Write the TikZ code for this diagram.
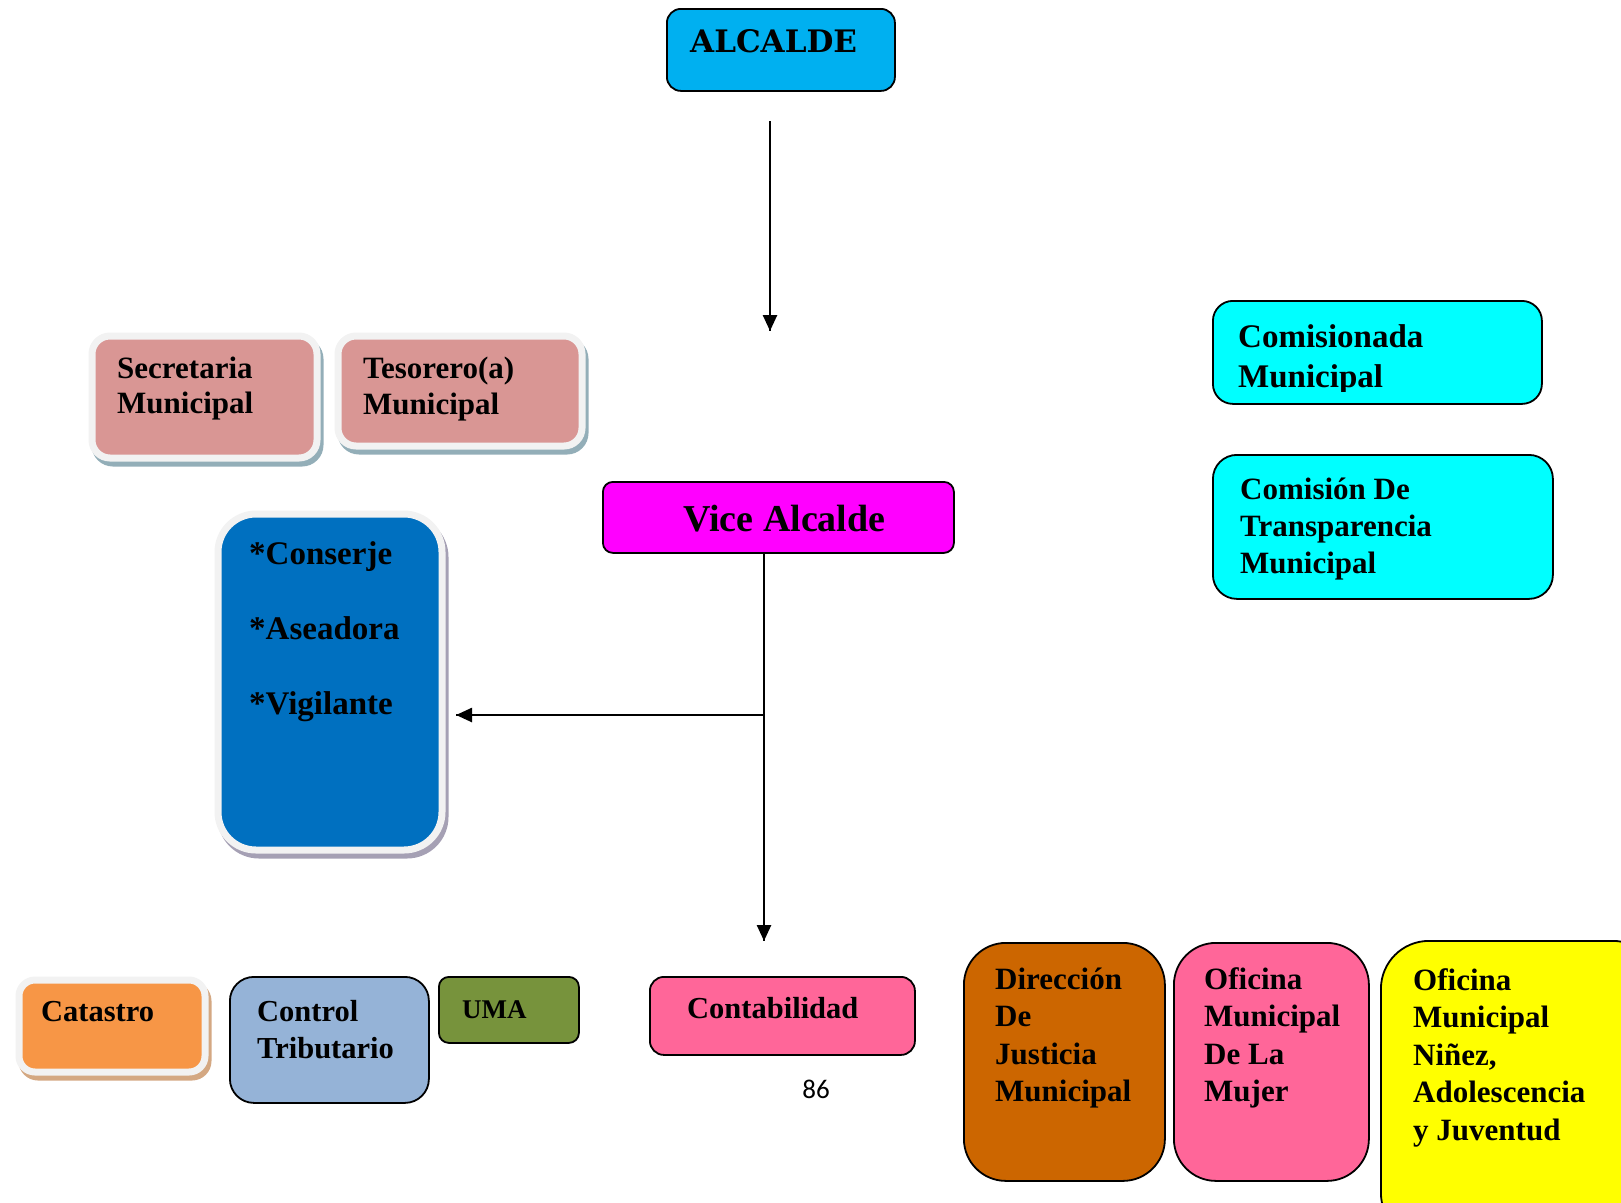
\documentclass[tikz,border=0pt]{standalone}
\usepackage{fontspec}
\setmainfont{Liberation Serif}
\newfontfamily\stencilfont{DejaVu Serif}
\newfontfamily\pagefont{Carlito}
\usetikzlibrary{arrows.meta}
\usetikzlibrary{decorations.markings}
\usetikzlibrary{shadows}
\tikzset{arrowto/.style = {decoration={markings,
                                      mark=at position 1 with {\arrow{Triangle[length=16pt, width=14pt]}}},
                           postaction={decorate}}}
\tikzset{plainbox/.style = {draw=black, line width=1.8pt, rounded corners=#1,
                            inner sep=0pt, anchor=north west},
         plainbox/.default = 12pt}
\tikzset{framedbox/.style = {draw=framegray, line width=7pt, rounded corners=#1,
                             inner sep=0pt, anchor=north west},
         framedbox/.default = 18pt}
\tikzset{shade/.style = {general shadow={fill=#1, draw=#1, line width=7pt,
                                         shadow xshift=3pt, shadow yshift=-5pt}}}
\tikzset{boxtext/.style = {anchor=base west, inner sep=0pt, text width=#1,
                           execute at begin node={\spaceskip=0pt\xspaceskip=0pt}},
         boxtext/.default = 240pt}
\definecolor{alcblue}{HTML}{00B0F0}
\definecolor{vicemagenta}{HTML}{FF00FF}
\definecolor{comcyan}{HTML}{00FFFF}
\definecolor{secpink}{HTML}{D99694}
\definecolor{servblue}{HTML}{0070C0}
\definecolor{catorange}{HTML}{F79646}
\definecolor{ctrlblue}{HTML}{95B3D7}
\definecolor{umagreen}{HTML}{77933C}
\definecolor{contpink}{HTML}{FF6699}
\definecolor{dirbrown}{HTML}{CC6600}
\definecolor{ninyellow}{HTML}{FFFF00}
\definecolor{framegray}{HTML}{F2F2F2}
\definecolor{shadeblue}{HTML}{93AEB8}
\definecolor{shadelilac}{HTML}{A5A0B4}
\definecolor{shadetan}{HTML}{D4A882}
\begin{document}
\begin{tikzpicture}[x=1pt, y=-1pt]
    \useasboundingbox (0, 0) rectangle (1621, 1202);
    \clip (0, 0) rectangle (1621, 1202);

    \node [plainbox=14pt, fill=alcblue, minimum width=228pt, minimum height=82pt] (alcalde) at (666, 8) {};
    \node [boxtext, font=\stencilfont\bfseries\fontsize{31}{35}\selectfont] (alcalde-text) at (690, 52) {ALCALDE};

    \node [plainbox=10pt, fill=vicemagenta, minimum width=351pt, minimum height=71pt] (vice) at (602, 481) {};
    \node [boxtext, font=\bfseries\fontsize{38}{42}\selectfont] (vice-text) at (683, 531) {Vice Alcalde};

    \node [plainbox=20pt, fill=comcyan, minimum width=329pt, minimum height=103pt] (comisionada) at (1212, 300) {};
    \begin{scope}
      \clip (1212, 300) rectangle (1541, 391);
      \node [boxtext, font=\bfseries\fontsize{33}{40}\selectfont] (comisionada-text) at (1238, 347) {Comisionada\\Municipal};
    \end{scope}

    \node [plainbox=24pt, fill=comcyan, minimum width=340pt, minimum height=144pt] (transparencia) at (1212, 454) {};
    \node [boxtext, font=\bfseries\fontsize{31}{37}\selectfont] (transparencia-text) at (1240, 499) {Comisión De\\Transparencia\\Municipal};

    \node [framedbox, shade=shadeblue, fill=secpink, minimum width=225pt, minimum height=122pt] (secretaria) at (88.5, 332.5) {};
    \node [boxtext, font=\bfseries\fontsize{31}{35}\selectfont] (secretaria-text) at (117, 378) {Secretaria\\Municipal};

    \node [framedbox, shade=shadeblue, fill=secpink, minimum width=244pt, minimum height=110pt] (tesorero) at (334.5, 332.5) {};
    \node [boxtext, font=\bfseries\fontsize{31}{36}\selectfont] (tesorero-text) at (363, 378) {Tesorero(a)\\Municipal};

    \node [framedbox=38pt, shade=shadelilac, fill=servblue, minimum width=224pt, minimum height=336pt] (servicios) at (214.5, 510.5) {};
    \node [boxtext, font=\bfseries\fontsize{33}{75}\selectfont] (servicios-text) at (249, 564) {*Conserje\\{*}Aseadora\\{*}Vigilante};

    \node [framedbox=16pt, shade=shadetan, fill=catorange, minimum width=186pt, minimum height=92pt] (catastro) at (15.5, 976.5) {};
    \node [boxtext, font=\bfseries\fontsize{30.5}{35}\selectfont] (catastro-text) at (41, 1021) {Catastro};

    \node [plainbox=24pt, fill=ctrlblue, minimum width=199pt, minimum height=126pt] (control) at (229, 976) {};
    \node [boxtext, font=\bfseries\fontsize{30.5}{37}\selectfont] (control-text) at (257, 1021) {Control\\Tributario};

    \node [plainbox=10pt, fill=umagreen, minimum width=140pt, minimum height=66pt] (uma) at (438, 976) {};
    \node [boxtext, font=\bfseries\fontsize{27}{32}\selectfont] (uma-text) at (462, 1018) {UMA};

    \node [plainbox=14pt, fill=contpink, minimum width=265pt, minimum height=78pt] (contabilidad) at (649, 976) {};
    \node [boxtext, font=\bfseries\fontsize{30.5}{35}\selectfont] (contabilidad-text) at (687, 1018) {Contabilidad};

    \node [plainbox=42pt, fill=dirbrown, minimum width=201pt, minimum height=238pt] (direccion) at (963, 942) {};
    \node [boxtext, font=\bfseries\fontsize{31}{37.5}\selectfont] (direccion-text) at (995, 989) {Dirección\\De\\Justicia\\Municipal};

    \node [plainbox=42pt, fill=contpink, minimum width=195pt, minimum height=238pt] (mujer) at (1173, 942) {};
    \node [boxtext, font=\bfseries\fontsize{31}{37.5}\selectfont] (mujer-text) at (1204, 989) {Oficina\\Municipal\\De La\\Mujer};

    \node [plainbox=48pt, fill=ninyellow, minimum width=280pt, minimum height=300pt] (ninez) at (1380, 940) {};
    \node [boxtext, font=\bfseries\fontsize{31}{37.5}\selectfont] (ninez-text) at (1413, 990) {Oficina\\Municipal\\Niñez,\\Adolescencia\\y Juventud};

    \node [font=\pagefont\fontsize{27}{30}\selectfont, inner sep=0pt] (page-number) at (816, 1089) {86};

    \coordinate (alcalde-out) at (770, 121);
    \coordinate (alcalde-tip) at (770, 331);
    \coordinate (contabilidad-tip) at (764, 941);
    \coordinate (servicios-tip) at (456, 715);

    \draw [line width=2.5pt, arrowto] (alcalde-out) -- (alcalde-tip);
    \draw [line width=2.5pt, arrowto] (vice.south -| contabilidad-tip) -- (contabilidad-tip);
    \draw [line width=2.5pt, arrowto] (servicios-tip -| contabilidad-tip) -- (servicios-tip);
  \end{tikzpicture}
\end{document}
